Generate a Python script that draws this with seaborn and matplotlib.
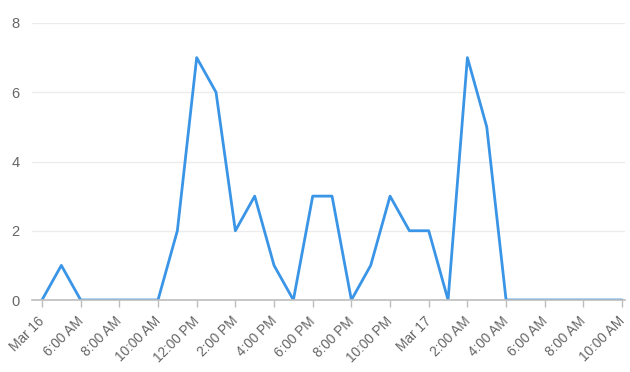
import matplotlib
matplotlib.use("Agg")
import matplotlib.pyplot as plt
import matplotlib.transforms as mtransforms
import matplotlib.dates as mdates
import seaborn as sns
import pandas as pd
import numpy as np

# Hourly counts from Mar 16 04:00 to Mar 17 10:00
start_time = "2024-03-16 04:00"
counts = [0, 1, 0, 0, 0, 0, 0, 2, 7, 6, 2, 3, 1, 0, 3, 3, 0, 1, 3, 2,
          2, 0, 7, 5, 0, 0, 0, 0, 0, 0, 0]
tick_labels = ["Mar 16", "6:00 AM", "8:00 AM", "10:00 AM", "12:00 PM", "2:00 PM",
               "4:00 PM", "6:00 PM", "8:00 PM", "10:00 PM", "Mar 17", "2:00 AM",
               "4:00 AM", "6:00 AM", "8:00 AM", "10:00 AM"]
y_ticks = [0, 2, 4, 6, 8]

times = pd.date_range(start_time, periods=len(counts), freq="h")
df = pd.DataFrame({"time": times, "count": counts})

sns.set_style("white")
plt.rcParams["font.family"] = ["Liberation Sans", "DejaVu Sans"]

fig = plt.figure(figsize=(6.3, 3.72), dpi=100)
ax = fig.add_axes([32/630, 72/372, (625-32)/630, (300-23)/372])

sns.lineplot(data=df, x="time", y="count", ax=ax, color="#3a95e6", linewidth=2)

ax.set_ylim(0, 8)
ax.set_yticks(y_ticks)
t0 = times[0]
ax.set_xlim(t0 - pd.Timedelta(minutes=31), times[-1] + pd.Timedelta(minutes=9))
tick_pos = pd.date_range(start_time, periods=len(tick_labels), freq="2h")
ax.set_xticks(tick_pos)
ax.set_xticklabels([])

# rotated tick labels placed just below each tick
offset = mtransforms.ScaledTranslation(-0.045, -0.14, fig.dpi_scale_trans)
trans = ax.get_xaxis_transform() + offset
for pos, lab in zip(mdates.date2num(tick_pos), tick_labels):
    ax.text(pos, 0, lab, transform=trans, rotation=45, ha="right", va="top",
            rotation_mode="anchor", fontsize=9.8, color="#666666", clip_on=False)

ax.grid(axis="y", color="#ececec", linewidth=1)
ax.set_axisbelow(True)
for s in ["top", "right", "left"]:
    ax.spines[s].set_visible(False)
ax.spines["bottom"].set_color("#bdbdbd")
ax.spines["bottom"].set_linewidth(1.2)
ax.tick_params(axis="x", length=5, width=1, color="#bdbdbd", direction="out", bottom=True)
ax.tick_params(axis="y", colors="#666666", labelsize=10.5, length=0, pad=9)
ax.set_xlabel("")
ax.set_ylabel("")

fig.savefig("out.png", dpi=100)
